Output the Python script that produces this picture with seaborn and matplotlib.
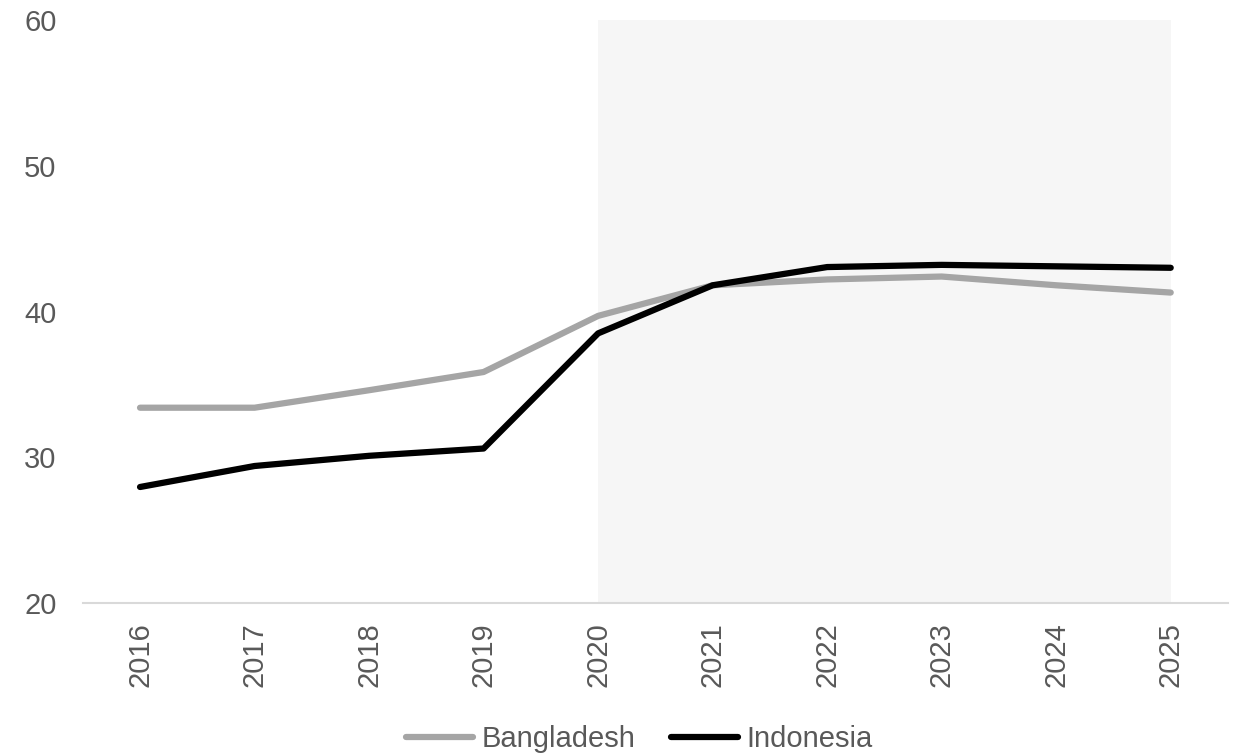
import matplotlib
matplotlib.use("Agg")
import matplotlib.pyplot as plt
import seaborn as sns
import pandas as pd

years = ["2016", "2017", "2018", "2019", "2020", "2021", "2022", "2023", "2024", "2025"]
bangladesh = [33.4, 33.4, 34.6, 35.85, 39.7, 41.8, 42.2, 42.4, 41.8, 41.3]
indonesia = [27.96, 29.4, 30.1, 30.6, 38.5, 41.8, 43.05, 43.2, 43.1, 43.0]
series_names = ["Bangladesh", "Indonesia"]
series_colors = ["#a5a5a5", "#000000"]
shade_start, shade_end = "2020", "2025"

sns.set_theme(style="white")
plt.rcParams["font.family"] = ["Liberation Sans", "DejaVu Sans"]

pos = list(range(len(years)))
df = pd.DataFrame({
    "pos": pos * 2,
    "value": bangladesh + indonesia,
    "country": [series_names[0]] * len(years) + [series_names[1]] * len(years),
})

fig = plt.figure(figsize=(12.41, 7.55), dpi=100)
ax = fig.add_axes([0.0667, 0.2013, 0.9228, 0.7722])

# forecast period shading
ax.axvspan(years.index(shade_start), years.index(shade_end), color="#f6f6f6", zorder=0, lw=0)

sns.lineplot(data=df, x="pos", y="value", hue="country", hue_order=series_names,
             palette=series_colors, linewidth=4.5, ax=ax, legend=True,
             solid_capstyle="round", zorder=3)

ax.set_xlim(-0.5, len(years) - 0.5)
ax.set_ylim(20, 60)
ax.set_yticks([20, 30, 40, 50, 60])
ax.set_xticks(pos)
ax.set_xticklabels(years, rotation=90)
ax.set_xlabel("")
ax.set_ylabel("")

for side in ["top", "right", "left"]:
    ax.spines[side].set_visible(False)
ax.spines["bottom"].set_color("#d9d9d9")
ax.spines["bottom"].set_linewidth(1.5)
ax.tick_params(axis="both", length=0, labelsize=21, labelcolor="#595959")
ax.tick_params(axis="x", pad=14)
ax.tick_params(axis="y", pad=19)

handles, labels = ax.get_legend_handles_labels()
ax.legend(handles, labels, loc="center", bbox_to_anchor=(0.486, -0.2335),
          bbox_transform=ax.transAxes, ncol=2, frameon=False, fontsize=21,
          handlelength=2.3, handletextpad=0.3, columnspacing=1.2, labelcolor="#595959")

fig.savefig("out.png", dpi=100)
